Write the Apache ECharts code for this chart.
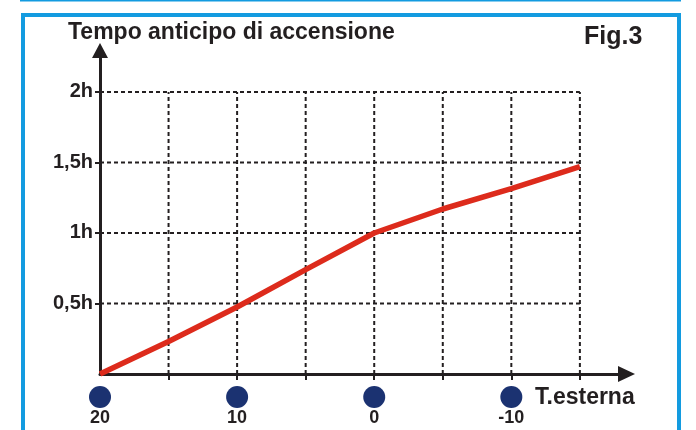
<!DOCTYPE html>
<html>
<head>
<meta charset="utf-8">
<script src="https://cdn.jsdelivr.net/npm/echarts@6/dist/echarts.min.js"></script>
<style>
  html, body { margin: 0; padding: 0; background: #ffffff; }
  #chart { width: 696px; height: 430px; }
</style>
</head>
<body>
<div id="chart"></div>
<script>
// ---- data ----
const tempExt   = [20, 15, 10, 5, 0, -5, -10, -15];
const anticipo  = [0, 0.23, 0.475, 0.74, 1.0, 1.17, 1.315, 1.47];
const xTickLabels = [20, 10, 0, -10];
const xGridValues = [15, 10, 5, 0, -5, -10, -15];
const yGridValues = [0.5, 1, 1.5, 2];
const yTickLabels = ['0,5h', '1h', '1,5h', '2h'];
const titleText = 'Tempo anticipo di accensione';
const xAxisName = 'T.esterna';
const figLabel = 'Fig.3';

// ---- styles ----
const INK = '#231f20';
const BLUE = '#139be0';
const RED = '#dd2b1c';
const NAVY = '#1b3271';
const FONT = '"Liberation Sans", Arial, Helvetica, sans-serif';

const chart = echarts.init(document.getElementById('chart'), null, { renderer: 'canvas' });

const xStart = Math.max(...tempExt);
const xEnd = Math.min(...xGridValues);
const yTop = Math.max(...yGridValues);

const gridSeries = [];
yGridValues.forEach(v => {
  gridSeries.push({
    type: 'line', silent: true, symbol: 'none', z: 1,
    lineStyle: { color: INK, width: 2, type: [4, 3] },
    data: [[xStart, v], [xEnd, v]]
  });
});
xGridValues.forEach(t => {
  gridSeries.push({
    type: 'line', silent: true, symbol: 'none', z: 1,
    lineStyle: { color: INK, width: 2, type: [4, 3] },
    data: [[t, 0], [t, yTop]]
  });
});

const option = {
  backgroundColor: '#ffffff',
  animation: false,
  grid: { left: 100, right: 69.5, top: 50.5, bottom: 56, containLabel: false },
  xAxis: {
    type: 'value', inverse: true, min: -18.4, max: 20,
    splitLine: { show: false },
    axisLine: { onZero: false, symbol: ['none', 'triangle'], symbolSize: [16, 17],
                lineStyle: { color: INK, width: 3 } },
    axisTick: { show: true, customValues: xGridValues, length: 6, inside: false,
                lineStyle: { color: INK, width: 2 } },
    axisLabel: {
      customValues: xTickLabels, margin: 12,
      formatter: v => '{dot|}\n{num|' + v + '}',
      rich: {
        dot: { width: 22, height: 22, borderRadius: 11, backgroundColor: NAVY, align: 'center' },
        num: { fontFamily: FONT, fontWeight: 'bold', fontSize: 18, color: INK, lineHeight: 21, align: 'center' }
      }
    }
  },
  yAxis: {
    type: 'value', min: 0, max: 2.294,
    splitLine: { show: false },
    axisLine: { onZero: false, symbol: ['none', 'triangle'], symbolSize: [16, 15],
                lineStyle: { color: INK, width: 3 } },
    axisTick: { show: true, customValues: yGridValues, length: 5,
                lineStyle: { color: INK, width: 2 } },
    axisLabel: {
      customValues: yGridValues, margin: 7,
      formatter: v => yTickLabels[yGridValues.indexOf(v)] || '',
      fontFamily: FONT, fontWeight: 'bold', fontSize: 20, color: INK,
      padding: [0, 0, 3, 0]
    }
  },
  series: gridSeries.concat([{
    type: 'line', symbol: 'none', z: 5,
    lineStyle: { color: RED, width: 5.5, cap: 'butt' },
    data: tempExt.map((t, i) => [t, anticipo[i]])
  }]),
  graphic: [
    { type: 'rect', silent: true, z: -1, shape: { x: 20, y: 0, width: 661, height: 1.5 }, style: { fill: BLUE } },
    { type: 'rect', silent: true, shape: { x: 23, y: 15, width: 656, height: 430 },
      style: { fill: 'none', stroke: BLUE, lineWidth: 4 } },
    { type: 'text', silent: true, style: { text: titleText, x: 68, y: 33, font: 'bold 23px ' + FONT, fill: INK, textAlign: 'left', textVerticalAlign: 'middle' } },
    { type: 'text', silent: true, style: { text: figLabel, x: 584, y: 37, font: 'bold 25px ' + FONT, fill: INK, textAlign: 'left', textVerticalAlign: 'middle' } },
    { type: 'text', silent: true, style: { text: xAxisName, x: 535, y: 398, font: 'bold 23px ' + FONT, fill: INK, textAlign: 'left', textVerticalAlign: 'middle' } }
  ]
};
chart.setOption(option);
</script>
</body>
</html>
